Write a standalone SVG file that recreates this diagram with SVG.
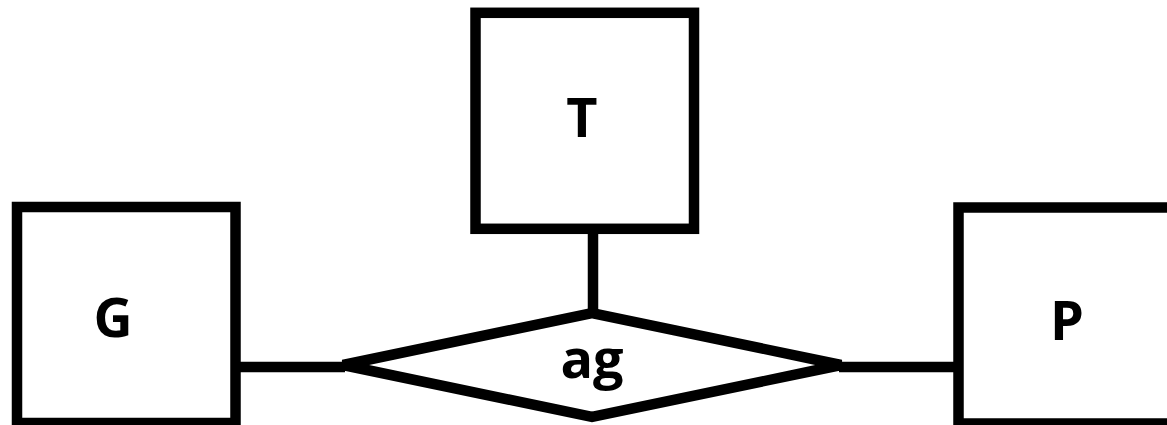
<svg xmlns="http://www.w3.org/2000/svg" width="1167" height="425" viewBox="0 0 1167 425">
<style>
.shape{fill:#fff;stroke:#000;stroke-width:10.5}
.conn{fill:none;stroke:#000;stroke-width:10.5}
.lbl{font-family:"Open Sans","Noto Sans",sans-serif;font-weight:bold;font-size:54px;text-anchor:middle;fill:#000}
</style>
<rect width="1167" height="425" fill="#fff"/>
<g id="connectors">
<line class="conn" x1="593" y1="229" x2="593" y2="313"/>
<line class="conn" x1="235" y1="367" x2="345" y2="367"/>
<line class="conn" x1="839" y1="367" x2="959" y2="367"/>
</g>
<g id="node-G">
<rect class="shape" x="17" y="207" width="218.5" height="216"/>
<text class="lbl" x="113" y="337">G</text>
</g>
<g id="node-T">
<rect class="shape" x="475.5" y="12.8" width="218.5" height="216"/>
<text class="lbl" x="582" y="137">T</text>
</g>
<g id="node-P">
<rect class="shape" x="958.5" y="207.5" width="218.5" height="216"/>
<text class="lbl" x="1067" y="340">P</text>
</g>
<g id="node-ag">
<polygon class="shape" points="343,365 592,313 841,365 592,417"/>
<text class="lbl" x="592" y="378">ag</text>
</g>
</svg>
